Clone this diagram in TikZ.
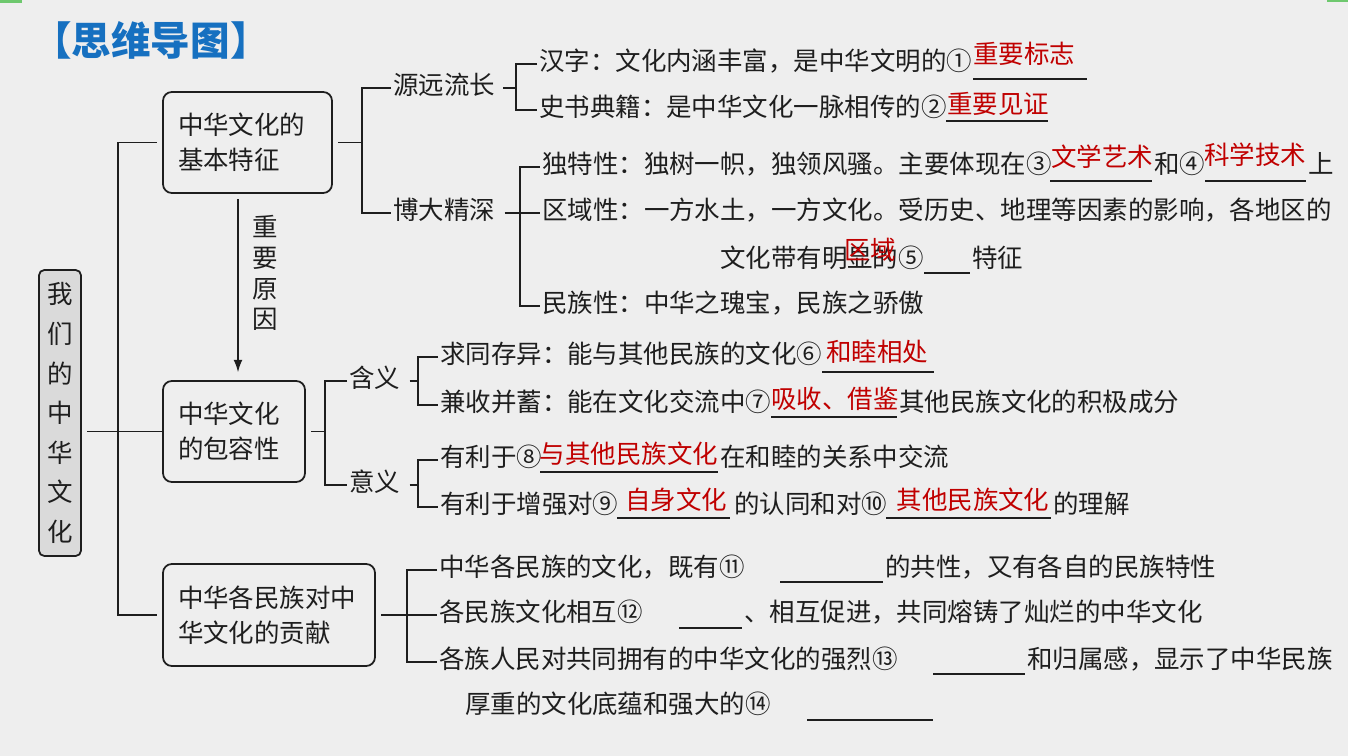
\documentclass[tikz,border=0pt]{standalone}
\usepackage{fontspec}
\newfontfamily\cjk{Noto Sans CJK SC}
\usetikzlibrary{arrows.meta}
\tikzset{>=latex}
\definecolor{myblue}{RGB}{22, 112, 192}
\definecolor{myred}{RGB}{192, 0, 0}
\definecolor{mygray1}{RGB}{238, 238, 238}
\definecolor{mygray2}{RGB}{218, 218, 218}
\definecolor{myink}{RGB}{30, 30, 30}
\definecolor{mygreen}{RGB}{110, 200, 110}

\begin{document}
\begin{tikzpicture}[
    x = 0.02cm, y = -0.02cm,
    tx/.style = {anchor = west, inner xsep = 1pt, inner ysep = 0pt, text height = 0.88em, text depth = 0.12em, text = myink, font = \cjk\fontsize{14.5}{20}\selectfont},
    rd/.style = {tx, anchor = center, text = myred},
    lb/.style = {inner sep = 0pt, align = center, text = myink},
    bx/.style = {draw = myink, line width = 1pt, rounded corners = 5pt, align = left, inner xsep = 0.3cm, inner ysep = 0pt, text = myink, font = \cjk\fontsize{14.5}{19.9}\selectfont},
    ln/.style = {draw = myink, line width = 0.8pt},
    ul/.style = {draw = myink, line width = 0.6pt},
]

\useasboundingbox[fill = mygray1] (0,0) rectangle (1348,756);
\fill[mygreen] (0,0) rectangle (22,3);
\fill[mygreen] (1327,0) rectangle (1348,2);

\node[anchor = west, inner sep = 0pt, text = myblue, font = \cjk\bfseries\fontsize{22.5}{27}\selectfont] (title) at (32,40) {【思维导图】};

% root and the three boxes
\node[bx, fill = mygray2, rounded corners = 3pt, align = center, inner xsep = 0pt, minimum width = 0.84cm, minimum height = 5.72cm, font = \cjk\fontsize{14.5}{22.5}\selectfont] (root) at (60,413) {我\\们\\的\\中\\华\\文\\化};
\node[bx, text width = 2.78cm, minimum height = 2.02cm] (b1) at (247.5,142.5) {中华文化的\\基本特征};
\node[bx, text width = 2.24cm, minimum height = 2.02cm] (b2) at (234,431.5) {中华文化\\的包容性};
\node[bx, text width = 3.64cm, minimum height = 2.04cm] (b3) at (269,615) {中华各民族对中\\华文化的贡献};

\coordinate (j0) at (118,431.5);
\draw[ln, shorten <= 3pt] (root.east |- b2.west) -- (b2.west);
\draw[ln, shorten <= 3pt, shorten >= 3pt] (b1.west) -| (j0) |- (b3.west);

\coordinate (ax) at (238,0);
\draw[ln, -{Latex[length=7pt, width=5pt]}, shorten <= 3pt, shorten >= 4.5pt] (b1.south -| ax) -- (b2.north -| ax);
\node[lb, font = \cjk\fontsize{14.5}{17.6}\selectfont] (cause) at (265,273) {重\\要\\原\\因};

% basic features
\node[tx] (k1) at (391,88) {源远流长};
\node[tx] (k2) at (391,213) {博大精深};
\coordinate (j1) at (362,142.5);
\draw[ln, shorten <= 3pt] (b1.east) -- (j1);
\draw[ln] (k1.west) -| (j1) |- (k2.west);

\node[tx] (a1) at (537,64) {汉字：文化内涵丰富，是中华文明的①};
\node[tx] (a2) at (537,110) {史书典籍：是中华文化一脉相传的②};
\coordinate (j2) at (516,88);
\draw[ln, shorten <= 0.12cm] (k1.east) -- (j2);
\draw[ln] (a1.west) -| (j2) |- (a2.west);
\draw[ul] (973,79) -- (1087,79);
\node[rd] (r1) at (1024,57) {重要标志};
\draw[ul] (946,121) -- (1048,121);
\node[rd] (r2) at (998,107) {重要见证};

\node[tx] (t1) at (540,167) {独特性：独树一帜，独领风骚。主要体现在③};
\node[tx] (t1b) at (1152,167) {和④};
\node[tx] (t1c) at (1306,167) {上};
\node[tx] (t2) at (540,213) {区域性：一方水土，一方文化。受历史、地理等因素的影响，各地区的};
\node[tx] (t2b) at (718,261) {文化带有明显的⑤};
\node[tx] (t2c) at (970,261) {特征};
\node[tx] (t3) at (540,306) {民族性：中华之瑰宝，民族之骄傲};
\coordinate (j3) at (520,213);
\draw[ln, shorten <= 0.15cm] (k2.east) -- (t2.west);
\draw[ln] (t1.west) -| (j3) |- (t3.west);
\draw[ul] (1050,181) -- (1152,181);
\node[rd] (r3) at (1102,160) {文学艺术};
\draw[ul] (1205,181) -- (1306,181);
\node[rd] (r4) at (1255,158) {科学技术};
\draw[ul] (924,273) -- (970,273);
\node[rd] (r5) at (870,253) {区域};

% inclusiveness
\node[tx] (m1) at (347,381) {含义};
\node[tx] (m2) at (347,485) {意义};
\coordinate (j4) at (325,431.5);
\draw[ln, shorten <= 3pt] (b2.east) -- (j4);
\draw[ln] (m1.west) -| (j4) |- (m2.west);

\node[tx] (c1) at (438,357) {求同存异：能与其他民族的文化⑥};
\node[tx] (c2) at (438,405) {兼收并蓄：能在文化交流中⑦};
\node[tx] (c2b) at (897,405) {其他民族文化的积极成分};
\coordinate (j5) at (418,381);
\draw[ln, shorten <= 0.15cm] (m1.east) -- (j5);
\draw[ln] (c1.west) -| (j5) |- (c2.west);
\draw[ul] (822,372) -- (934,372);
\node[rd] (r6) at (877,355) {和睦相处};
\draw[ul] (771,417) -- (897,417);
\node[rd] (r7) at (835,402) {吸收、借鉴};

\node[tx] (c3) at (438,460) {有利于⑧};
\node[tx] (c3b) at (718,460) {在和睦的关系中交流};
\node[tx] (c4) at (438,507) {有利于增强对⑨};
\node[tx] (c4b) at (732,507) {的认同和对⑩};
\node[tx] (c4c) at (1051,507) {的理解};
\coordinate (j6) at (418,485);
\draw[ln, shorten <= 0.15cm] (m2.east) -- (j6);
\draw[ln] (c3.west) -| (j6) |- (c4.west);
\draw[ul] (540,472) -- (718,472);
\node[rd] (r8) at (629,457) {与其他民族文化};
\draw[ul] (617,518) -- (730,518);
\node[rd] (r9) at (676,503) {自身文化};
\draw[ul] (886,518) -- (1051,518);
\node[rd] (r10) at (973,503) {其他民族文化};

% contribution
\node[tx] (d1) at (437,570) {中华各民族的文化，既有⑪};
\node[tx] (d1b) at (883,570) {的共性，又有各自的民族特性};
\node[tx] (d2) at (437,615) {各民族文化相互⑫};
\node[tx] (d2b) at (742,615) {、相互促进，共同熔铸了灿烂的中华文化};
\node[tx] (d3) at (437,662) {各族人民对共同拥有的中华文化的强烈⑬};
\node[tx] (d3b) at (1025,662) {和归属感，显示了中华民族};
\node[tx] (d4) at (463,707) {厚重的文化底蕴和强大的⑭};
\coordinate (j7) at (407,615);
\draw[ln, shorten <= 3pt] (b3.east) -- (d2.west);
\draw[ln] (d1.west) -| (j7) |- (d3.west);
\draw[ul] (780,582) -- (883,582);
\draw[ul] (679,628) -- (742,628);
\draw[ul] (933,674) -- (1025,674);
\draw[ul] (807,720) -- (933,720);

\end{tikzpicture}
\end{document}
